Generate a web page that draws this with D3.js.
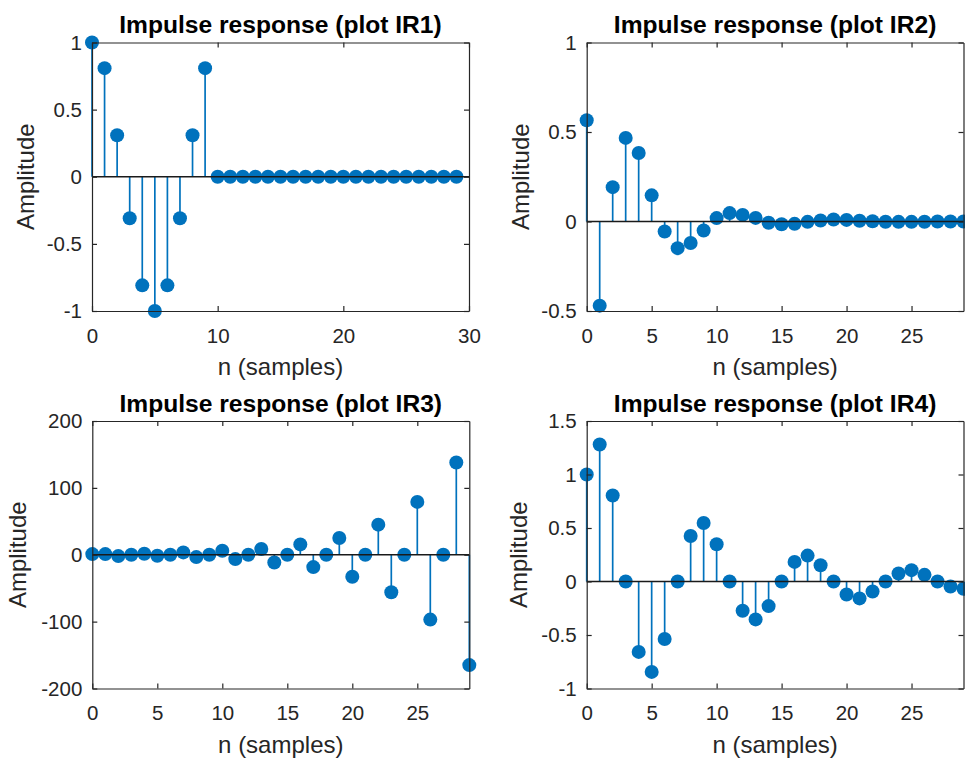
<!DOCTYPE html>
<html><head><meta charset="utf-8">
<script src="https://cdn.jsdelivr.net/npm/d3@7"></script>
<style>body{margin:0;background:#fff} svg{display:block} text{font-family:"Liberation Sans",Arial,Helvetica,sans-serif}</style>
</head><body>
<svg id="c" width="965" height="761"></svg>
<script>
// ---- data ----
const titles = ["Impulse response (plot IR1)", "Impulse response (plot IR2)", "Impulse response (plot IR3)", "Impulse response (plot IR4)"];
const xLabel = "n (samples)";
const yLabel = "Amplitude";

const ir1 = [1, 0.809, 0.309, -0.309, -0.809, -1, -0.809, -0.309, 0.309, 0.809,
  0, 0, 0, 0, 0, 0, 0, 0, 0, 0, 0, 0, 0, 0, 0, 0, 0, 0, 0, 0];
const ir2 = [0.566, -0.47, 0.192, 0.467, 0.383, 0.146, -0.056, -0.149, -0.12, -0.05,
  0.019, 0.047, 0.037, 0.02, -0.007, -0.015, -0.013, -0.002, 0.006, 0.011,
  0.009, 0.004, 0.001, -0.001, -0.002, -0.002, -0.001, 0, 0, 0];
const ir3 = [1, 1, -2, 0, 1.5, -1.5, 0, 3.5, -3.5, 0,
  6, -6.5, 0, 8.5, -11.5, 0, 15.5, -18.5, 0, 25,
  -33, 0, 45, -56, 0, 79, -97, 0, 138, -165];
const ir4 = [1, 1.28, 0.804, 0, -0.658, -0.845, -0.537, 0, 0.425, 0.547,
  0.348, 0, -0.273, -0.354, -0.23, 0, 0.183, 0.242, 0.152, 0,
  -0.121, -0.158, -0.093, 0, 0.075, 0.106, 0.062, 0, -0.047, -0.068];

const xTicks1 = [0, 10, 20, 30];
const xTicks2 = [0, 5, 10, 15, 20, 25];
const yTicks1 = [-1, -0.5, 0, 0.5, 1];
const yTicks2 = [-0.5, 0, 0.5, 1];
const yTicks3 = [-200, -100, 0, 100, 200];
const yTicks4 = [-1, -0.5, 0, 0.5, 1, 1.5];

const xDomains = [[0, 30], [0, 29], [0, 29], [0, 29]];
const yDomains = [[-1, 1], [-0.5, 1], [-200, 200], [-1, 1.5]];

// ---- layout ----
const panels = [
  {title: titles[0], values: ir1, xd: xDomains[0], yd: yDomains[0], xt: xTicks1, yt: yTicks1, L: 92, R: 469, T: 42.5, B: 311, yOff: 58},
  {title: titles[1], values: ir2, xd: xDomains[1], yd: yDomains[1], xt: xTicks2, yt: yTicks2, L: 586.7, R: 963.5, T: 42.5, B: 311, yOff: 58},
  {title: titles[2], values: ir3, xd: xDomains[2], yd: yDomains[2], xt: xTicks2, yt: yTicks3, L: 92.3, R: 469.3, T: 421, B: 688.5, yOff: 66},
  {title: titles[3], values: ir4, xd: xDomains[3], yd: yDomains[3], xt: xTicks2, yt: yTicks4, L: 586.7, R: 963.5, T: 421, B: 688.5, yOff: 60}
];

const blue = "#0072BD", axisCol = "#262626";
const svg = d3.select("#c");
svg.append("rect").attr("width", 965).attr("height", 761).attr("fill", "#fff");
const fmt = v => String(v);

panels.forEach(p => {
  const x = d3.scaleLinear().domain(p.xd).range([p.L, p.R]);
  const y = d3.scaleLinear().domain(p.yd).range([p.B, p.T]);
  const g = svg.append("g");

  // stems
  g.selectAll("line.stem").data(p.values).join("line")
    .attr("x1", (d, i) => x(i)).attr("x2", (d, i) => x(i))
    .attr("y1", y(0)).attr("y2", d => y(d))
    .attr("stroke", blue).attr("stroke-width", 1.7);
  // markers
  g.selectAll("circle").data(p.values).join("circle")
    .attr("cx", (d, i) => x(i)).attr("cy", d => y(d)).attr("r", 7)
    .attr("fill", blue);
  // baseline
  g.append("line").attr("x1", x(p.xd[0])).attr("x2", x(p.xd[1]))
    .attr("y1", y(0)).attr("y2", y(0)).attr("stroke", "#1a1a1a").attr("stroke-width", 1.5);

  // axes
  const style = sel => {
    sel.attr("font-size", 20.5).attr("font-family", '"Liberation Sans", Arial, sans-serif');
    sel.selectAll("path,line").attr("stroke", axisCol).attr("stroke-width", 1.2);
    sel.selectAll("text").attr("fill", axisCol);
  };
  g.append("g").attr("transform", `translate(0,${p.B})`)
    .call(d3.axisBottom(x).tickValues(p.xt).tickFormat(fmt).tickSizeInner(-5).tickSizeOuter(0).tickPadding(17))
    .call(style);
  g.append("g").attr("transform", `translate(0,${p.T})`)
    .call(d3.axisTop(x).tickValues(p.xt).tickFormat("").tickSizeInner(-5).tickSizeOuter(0))
    .call(style);
  g.append("g").attr("transform", `translate(${p.L},0)`)
    .call(d3.axisLeft(y).tickValues(p.yt).tickFormat(fmt).tickSizeInner(-5).tickSizeOuter(0).tickPadding(10))
    .call(style);
  g.append("g").attr("transform", `translate(${p.R},0)`)
    .call(d3.axisRight(y).tickValues(p.yt).tickFormat("").tickSizeInner(-5).tickSizeOuter(0))
    .call(style);

  const cx = (p.L + p.R) / 2, cy = (p.T + p.B) / 2;
  g.append("text").attr("x", cx).attr("y", p.T - 9.5).attr("text-anchor", "middle")
    .attr("font-size", 24.6).attr("font-weight", "bold").attr("fill", "#000").text(p.title);
  g.append("text").attr("x", cx).attr("y", p.B + 64).attr("text-anchor", "middle")
    .attr("font-size", 24).attr("fill", axisCol).text(xLabel);
  g.append("text").attr("transform", `translate(${p.L - p.yOff},${cy}) rotate(-90)`)
    .attr("text-anchor", "middle").attr("font-size", 24).attr("fill", axisCol).text(yLabel);
});
</script>
</body></html>
